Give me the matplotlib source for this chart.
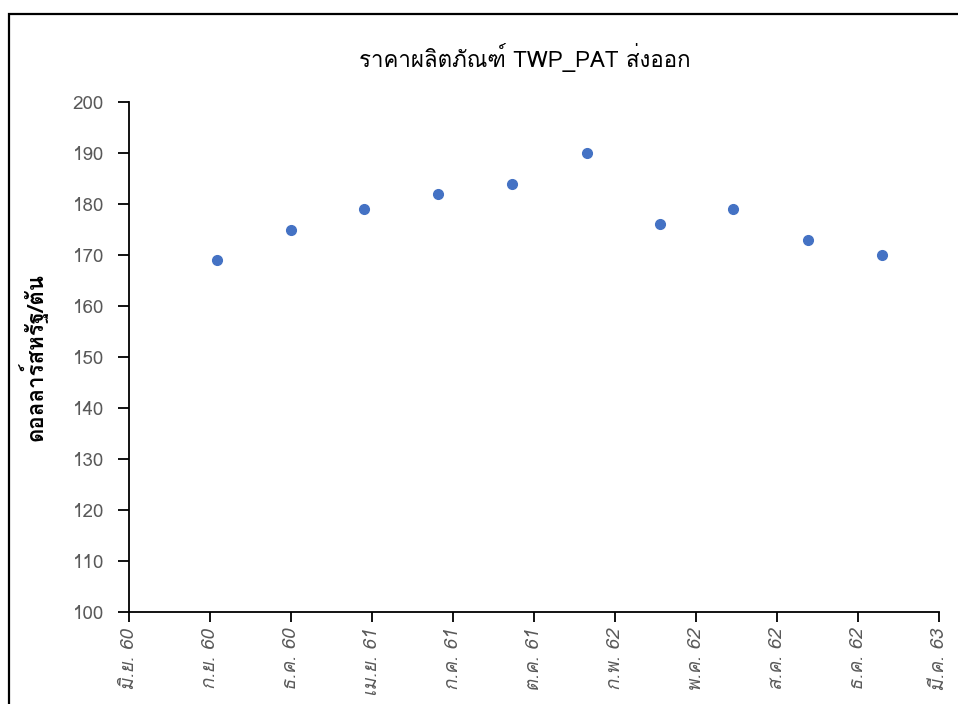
#!/usr/bin/env python3
import datetime as dt
import matplotlib
matplotlib.use("Agg")
import matplotlib.pyplot as plt
from matplotlib import font_manager
from matplotlib.patches import Rectangle

# data (quarterly export prices, USD/ton)
dates = ["2017-10-01", "2018-01-01", "2018-04-01", "2018-07-01", "2018-10-01",
         "2019-01-01", "2019-04-01", "2019-07-01", "2019-10-01", "2020-01-01"]
prices = [169, 175, 179, 182, 184, 190, 176, 179, 173, 170]

tick_labels = ["มิ.ย. 60", "ก.ย. 60", "ธ.ค. 60", "เม.ย. 61", "ก.ค. 61", "ต.ค. 61",
               "ก.พ. 62", "พ.ค. 62", "ส.ค. 62", "ธ.ค. 62", "มี.ค. 63"]
y_ticks = [100, 110, 120, 130, 140, 150, 160, 170, 180, 190, 200]

title = "ราคาผลิตภัณฑ์ TWP_PAT ส่งออก"
y_label = "ดอลลาร์สหรัฐ/ตัน"


def find_thai_font():
    # look for any installed font that carries Thai glyphs
    try:
        from fontTools.ttLib import TTFont
    except ImportError:
        return None
    for f in font_manager.fontManager.ttflist:
        try:
            cmap = TTFont(f.fname, fontNumber=0, lazy=True).getBestCmap()
        except Exception:
            continue
        if cmap and 0x0E04 in cmap and 0x0E2D in cmap:
            return f.name
    return None


thai_font = find_thai_font()
families = [thai_font, "DejaVu Sans"] if thai_font else ["DejaVu Sans"]
plt.rcParams["font.family"] = families

x = [dt.datetime.strptime(d, "%Y-%m-%d") for d in dates]

fig = plt.figure(figsize=(9.58, 7.04), dpi=100)
ax = fig.add_axes([0.1347, 0.1307, 0.8455, 0.7244])

ax.plot(x, prices, linestyle="none", marker="o", markersize=7,
        color="#4472C4", markeredgecolor="#4472C4")

# Excel-style date axis: min around mid June 2017, major unit 100 days
x_start = dt.datetime(2017, 6, 15)
x_ticks = [x_start + dt.timedelta(days=100 * i) for i in range(len(tick_labels))]
ax.set_xlim(x_ticks[0], x_ticks[-1])
ax.set_xticks(x_ticks)
ax.set_xticklabels(tick_labels, rotation=90, fontsize=13.5, color="#595959",
                   style="italic", va="top", ha="center")

ax.set_ylim(100, 200)
ax.set_yticks(y_ticks)
ax.set_yticklabels([str(v) for v in y_ticks], fontsize=13.5, color="#595959")

for side in ["top", "right"]:
    ax.spines[side].set_visible(False)
for side in ["left", "bottom"]:
    ax.spines[side].set_linewidth(1.3)
    ax.spines[side].set_color("black")

ax.tick_params(axis="y", direction="out", length=8, width=1.3, pad=10)
ax.tick_params(axis="x", direction="out", length=7, width=1.3, pad=5)

ax.set_ylabel(y_label, fontsize=16, fontweight="bold", labelpad=18)
fig.text(0.548, 0.918, title, fontsize=16, ha="center", va="center")

# outer chart border (cropped on the right and bottom)
fig.patches.append(Rectangle((8.5 / 958, -0.2), 1.2, 1.2 - 14 / 704,
                             transform=fig.transFigure, fill=False,
                             edgecolor="black", linewidth=1.6))

fig.savefig("out.png", dpi=100)
plt.close(fig)
